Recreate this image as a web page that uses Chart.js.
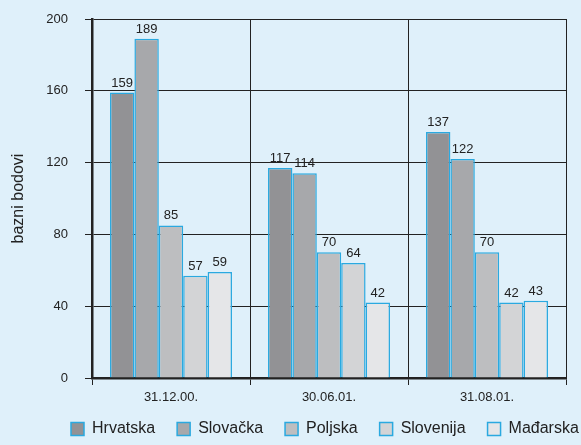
<!DOCTYPE html>
<html>
<head>
<meta charset="utf-8">
<script src="https://cdn.jsdelivr.net/npm/chart.js@4/dist/chart.umd.min.js"></script>
<style>
html,body{margin:0;padding:0;background:#dff0fa;}
canvas{display:block;}
</style>
</head>
<body>
<canvas id="c" width="581" height="445"></canvas>
<script>
const categories = ['31.12.00.', '30.06.01.', '31.08.01.'];
const seriesNames = ['Hrvatska', 'Slovačka', 'Poljska', 'Slovenija', 'Mađarska'];
const hrvatska = [159, 117, 137];
const slovacka = [189, 114, 122];
const poljska = [85, 70, 70];
const slovenija = [57, 64, 42];
const madarska = [59, 42, 43];
const yTicks = [0, 40, 80, 120, 160, 200];
const yTitle = 'bazni bodovi';

const fills = ['#929295', '#a7a8ab', '#bdbec0', '#d3d4d6', '#e5e6e8'];
const borderCol = '#2aa9e0';
const FONT = '"Liberation Sans", Arial, Helvetica, sans-serif';
const TXT = '#222222';
const values = [hrvatska, slovacka, poljska, slovenija, madarska];

const bgPlugin = {
  id: 'bg',
  beforeDraw(chart) {
    const ctx = chart.ctx;
    ctx.save();
    ctx.fillStyle = '#dff0fa';
    ctx.fillRect(0, 0, chart.width, chart.height);
    ctx.restore();
  }
};

const legendPos = {
  id: 'legendPos',
  afterLayout(chart) {
    const lg = chart.legend;
    if (lg) { lg.left = 49; lg.right = 800; lg.top = 399; lg.bottom = 445; }
  }
};

const valueLabels = {
  id: 'valueLabels',
  afterDatasetsDraw(chart) {
    const ctx = chart.ctx;
    ctx.save();
    ctx.font = '13px ' + FONT;
    ctx.fillStyle = TXT;
    ctx.textAlign = 'center';
    ctx.textBaseline = 'alphabetic';
    chart.data.datasets.forEach((ds, i) => {
      chart.getDatasetMeta(i).data.forEach((bar, j) => {
        ctx.fillText(String(ds.data[j]), bar.x, bar.y - 6);
      });
    });
    ctx.restore();
  }
};

new Chart(document.getElementById('c'), {
  type: 'bar',
  data: {
    labels: categories,
    datasets: seriesNames.map((n, i) => ({
      label: n,
      data: values[i],
      backgroundColor: fills[i],
      borderColor: borderCol,
      borderWidth: 1.5,
      categoryPercentage: 0.772,
      barPercentage: 1.0
    }))
  },
  options: {
    responsive: false,
    animation: false,
    layout: { padding: { left: 0, right: 0, top: 19, bottom: 0 } },
    plugins: {
      tooltip: { enabled: false },
      legend: {
        position: 'bottom',
        align: 'start',
        maxHeight: 35,
        labels: {
          boxWidth: 13,
          boxHeight: 13,
          padding: 22,
          color: TXT,
          font: { size: 16, family: FONT }
        }
      }
    },
    scales: {
      x: {
        grid: {
          offset: true,
          color: '#222',
          lineWidth: 1,
          tickLength: 7,
          drawTicks: true
        },
        border: { display: true, color: '#222', width: 2.5 },
        ticks: { color: TXT, font: { size: 13, family: FONT }, padding: 5 },
        afterFit(scale) { scale.height = 32; scale.paddingLeft = 0; scale.paddingRight = 0; }
      },
      y: {
        min: 0,
        max: 200,
        afterBuildTicks(scale) { scale.ticks = yTicks.map(v => ({ value: v })); },
        grid: { color: '#222', lineWidth: 1, tickLength: 7 },
        border: { display: true, color: '#222', width: 2.5 },
        ticks: { color: TXT, font: { size: 13, family: FONT }, padding: 17 },
        title: {
          display: true,
          text: yTitle,
          color: TXT,
          font: { size: 16, family: FONT },
          padding: { top: 9, bottom: 0 }
        },
        afterFit(scale) { scale.width = 92; scale.paddingTop = 0; scale.paddingBottom = 0; }
      },
      yRight: {
        position: 'right',
        display: true,
        min: 0,
        max: 200,
        grid: { display: false, drawTicks: false },
        border: { display: false },
        ticks: { display: false },
        afterFit(scale) { scale.width = 15; scale.paddingTop = 0; scale.paddingBottom = 0; }
      }
    }
  },
  plugins: [bgPlugin, legendPos, valueLabels]
});
</script>
</body>
</html>
